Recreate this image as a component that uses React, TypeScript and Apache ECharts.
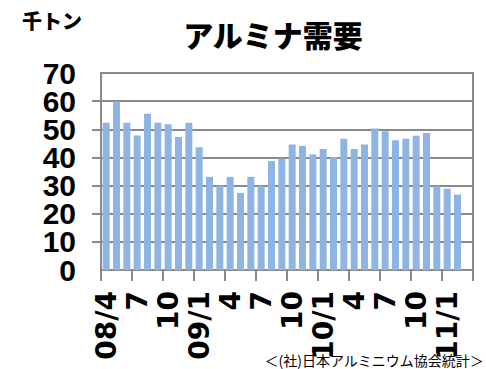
import React, { useEffect, useRef } from "react";
import * as echarts from "echarts";

const months: string[] = [
  "08/4", "5", "6", "7", "8", "9", "10", "11", "12",
  "09/1", "2", "3", "4", "5", "6", "7", "8", "9", "10", "11", "12",
  "10/1", "2", "3", "4", "5", "6", "7", "8", "9", "10", "11", "12",
  "11/1", "2", "3",
];

const demand: (number | null)[] = [
  52.3, 59.9, 52.3, 47.8, 55.5, 52.3, 51.8, 47.3, 52.3,
  43.6, 33.1, 29.9, 33.1, 27.4, 33.1, 29.9, 38.7, 39.6, 44.6, 44.1, 41.1, 43.0,
  40.1, 46.6, 43.0, 44.6, 50.3, 49.3, 46.1, 46.6, 47.7, 48.7,
  29.8, 28.9, 26.8, null,
];

const titleText = "アルミナ需要";
const unitText = "千トン";
const sourceText = "＜(社)日本アルミニウム協会統計＞";

const yMin = 0;
const yMax = 70;
const yStep = 10;

export default function App() {
  const ref = useRef<HTMLDivElement>(null);
  useEffect(() => {
    if (!ref.current) return;
    const chart = echarts.init(ref.current, null, { renderer: "svg" });
    const gridColor = "#8a8a8a";
    const yLabel = {
      margin: 25,
      fontFamily: "Liberation Sans",
      fontWeight: "bold",
      fontSize: 30,
      color: "#000",
    };
    chart.setOption({
      animation: false,
      backgroundColor: "#ffffff",
      title: {
        text: titleText,
        left: 268,
        textAlign: "center",
        top: 14,
        textStyle: {
          fontFamily: "Noto Sans CJK JP",
          fontWeight: 900,
          fontSize: 30,
          color: "#000",
        },
      },
      graphic: [
        {
          type: "text",
          left: 22,
          top: 10,
          style: {
            text: unitText,
            fontFamily: "Noto Sans CJK JP",
            fontWeight: 900,
            fontSize: 20,
            fill: "#000",
          },
        },
        {
          type: "text",
          right: 2,
          top: 353,
          style: {
            text: sourceText,
            fontFamily: "Noto Sans CJK JP",
            fontSize: 14,
            fill: "#000",
          },
        },
      ],
      grid: {
        left: 101,
        right: 13,
        top: 73,
        bottom: 99,
        show: true,
        borderColor: gridColor,
        borderWidth: 2,
      },
      xAxis: {
        type: "category",
        data: months,
        boundaryGap: true,
        axisLine: { lineStyle: { color: gridColor, width: 2 } },
        axisTick: { show: true, interval: 2, length: 11, lineStyle: { color: gridColor, width: 2 } },
        axisLabel: {
          interval: 2,
          rotate: 90,
          margin: 21,
          fontFamily: "DejaVu Sans",
          fontWeight: "bold",
          fontSize: 28,
          color: "#000",
        },
      },
      yAxis: [
        {
          type: "value",
          position: "left",
          min: yMin,
          max: yMax,
          interval: yStep,
          axisLine: { show: true, lineStyle: { color: gridColor, width: 2 } },
          axisTick: { show: true, length: 9, lineStyle: { color: gridColor, width: 2 } },
          axisLabel: { ...yLabel, showMinLabel: false, showMaxLabel: false },
          splitLine: { show: true, lineStyle: { color: gridColor, width: 2 } },
        },
        {
          type: "value",
          position: "left",
          offset: 0,
          min: yMin,
          max: yMax,
          interval: yMax - yMin,
          axisLine: { show: false },
          axisTick: { show: false },
          axisLabel: { ...yLabel, showMinLabel: true, showMaxLabel: true },
          splitLine: { show: false },
        },
      ],
      series: [
        {
          type: "bar",
          yAxisIndex: 0,
          data: demand,
          barWidth: 7,
          itemStyle: { color: "#8db4e2" },
        },
      ],
    });
    return () => chart.dispose();
  }, []);
  return <div ref={ref} style={{ width: 486, height: 369, position: "absolute", left: 0, top: 0 }} />;
}
